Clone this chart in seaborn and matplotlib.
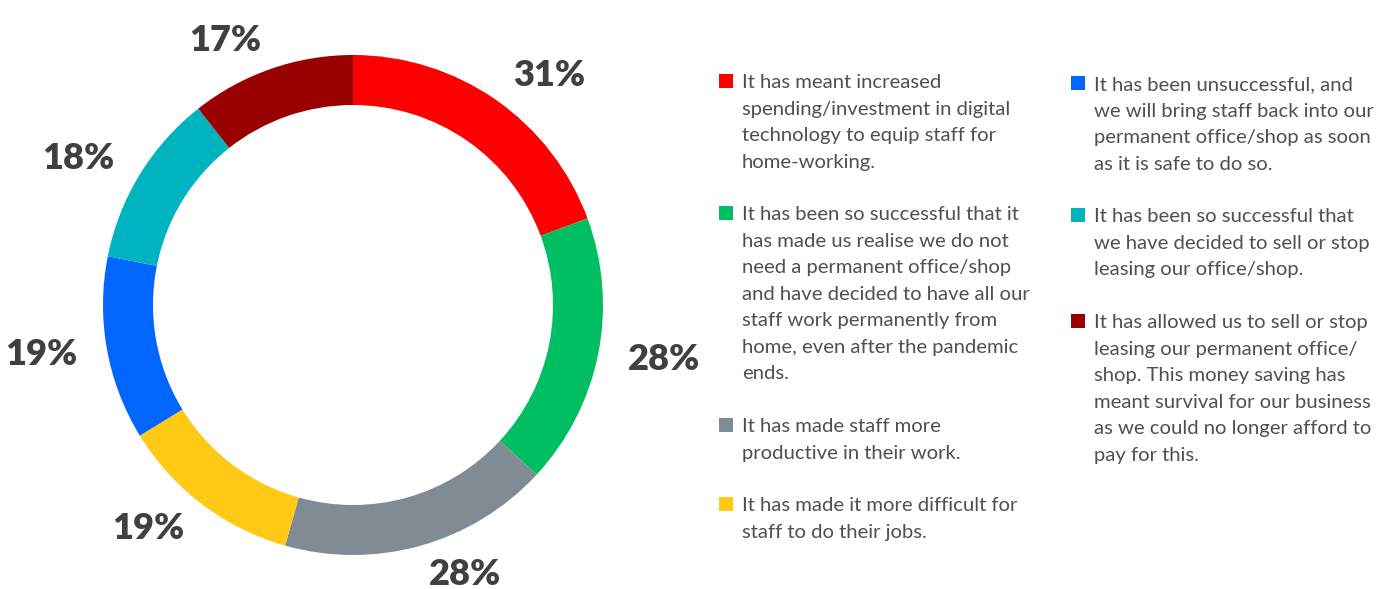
import matplotlib
matplotlib.use("Agg")
import matplotlib.pyplot as plt
import seaborn as sns
from matplotlib.patches import Rectangle

sns.set_theme(style="white")
plt.rcParams['font.family'] = ['Lato', 'DejaVu Sans']

values = [31, 28, 28, 19, 19, 18, 17]
labels = ["31%", "28%", "28%", "19%", "19%", "18%", "17%"]
colors = ["#FF0000", "#00BF63", "#818B94", "#FFC915", "#0066FF", "#00B3C1", "#990000"]
legend_texts = [
    "It has meant increased\nspending/investment in digital\ntechnology to equip staff for\nhome-working.",
    "It has been so successful that it\nhas made us realise we do not\nneed a permanent office/shop\nand have decided to have all our\nstaff work permanently from\nhome, even after the pandemic\nends.",
    "It has made staff more\nproductive in their work.",
    "It has made it more difficult for\nstaff to do their jobs.",
    "It has been unsuccessful, and\nwe will bring staff back into our\npermanent office/shop as soon\nas it is safe to do so.",
    "It has been so successful that\nwe have decided to sell or stop\nleasing our office/shop.",
    "It has allowed us to sell or stop\nleasing our permanent office/\nshop. This money saving has\nmeant survival for our business\nas we could no longer afford to\npay for this.",
]

W, H = 1377, 589
fig = plt.figure(figsize=(W / 100, H / 100), dpi=100)
fig.patch.set_facecolor("white")

ax = fig.add_axes([0, 0, 706 / W, 1])
ax.set_xlim(-353, 353)
ax.set_ylim(-284, 305)
ax.set_aspect("equal")
ax.axis("off")

wedges, texts = ax.pie(values, colors=colors, radius=250, startangle=90, counterclock=False,
                       labels=labels, labeldistance=1.12,
                       wedgeprops=dict(width=50, edgecolor="none"),
                       textprops=dict(fontsize=26, fontweight="heavy", color="#404040"))
ax.set_xlim(-353, 353)
ax.set_ylim(-284, 305)

# legend
col_x = [719, 1071]
rows = [(0, 0, 81), (1, 0, 213), (2, 0, 425), (3, 0, 504),
        (4, 1, 83), (5, 1, 215), (6, 1, 321)]
for idx, col, ytop in rows:
    x = col_x[col]
    sq = 14
    fig.patches.append(Rectangle(((x) / W, 1 - (ytop + sq / 2) / H), sq / W, sq / H,
                                 transform=fig.transFigure, facecolor=colors[idx],
                                 edgecolor="none"))
    fig.text((x + 23) / W, 1 - (ytop - 7) / H, legend_texts[idx], ha="left", va="top",
             fontsize=14.6, color="#505050", linespacing=1.68)

fig.savefig("out.png", dpi=100, facecolor="white")
